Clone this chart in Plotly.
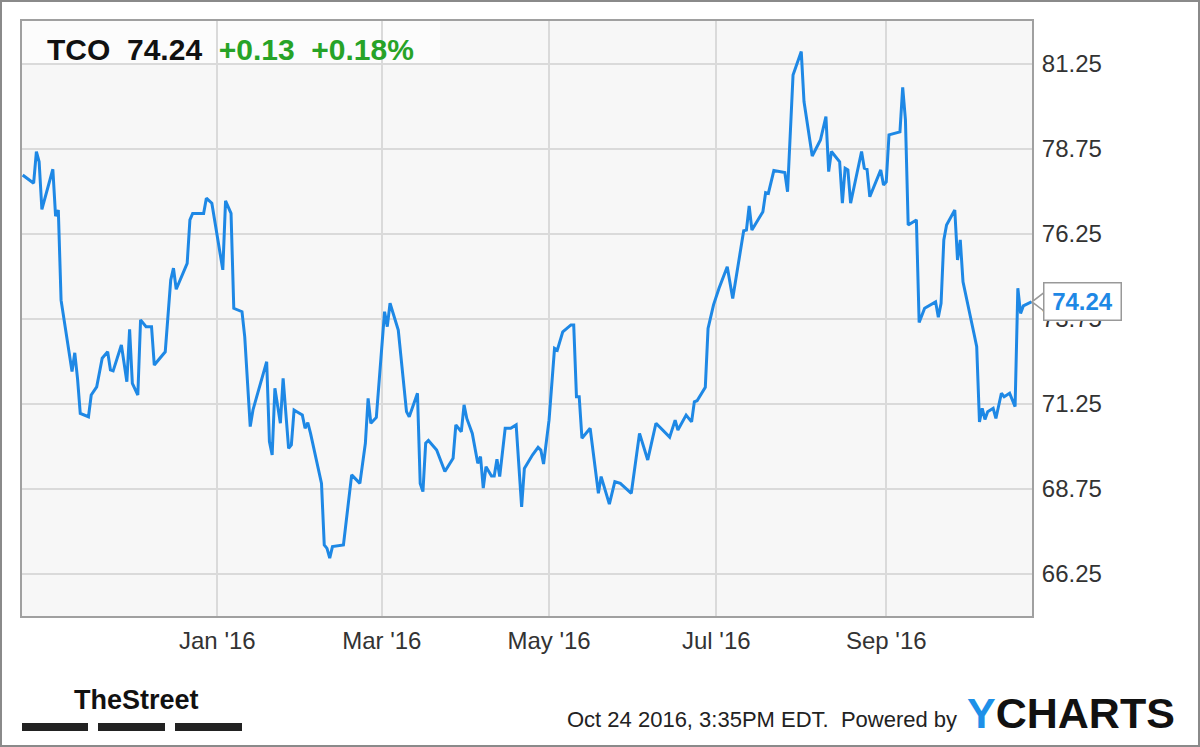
import plotly.graph_objects as go

# TCO closing prices (Oct 2015 - Oct 2016)
dates = [
    "2015-10-22", "2015-10-26", "2015-10-27", "2015-10-28", "2015-10-29",
    "2015-11-02", "2015-11-03", "2015-11-04", "2015-11-05", "2015-11-09", "2015-11-10",
    "2015-11-11", "2015-11-12", "2015-11-15", "2015-11-16", "2015-11-18", "2015-11-20",
    "2015-11-22", "2015-11-23", "2015-11-24", "2015-11-27", "2015-11-29", "2015-11-30",
    "2015-12-01", "2015-12-03", "2015-12-04", "2015-12-06", "2015-12-08", "2015-12-09",
    "2015-12-13", "2015-12-15", "2015-12-16", "2015-12-17", "2015-12-21", "2015-12-22",
    "2015-12-23", "2015-12-27", "2015-12-28", "2015-12-30",
    "2016-01-03", "2016-01-04", "2016-01-06", "2016-01-07", "2016-01-10", "2016-01-11",
    "2016-01-13", "2016-01-14", "2016-01-19", "2016-01-20", "2016-01-21", "2016-01-22",
    "2016-01-24", "2016-01-25", "2016-01-27", "2016-01-28", "2016-01-29", "2016-01-30",
    "2016-02-01", "2016-02-02", "2016-02-03", "2016-02-04", "2016-02-08", "2016-02-09",
    "2016-02-10", "2016-02-11", "2016-02-12", "2016-02-16", "2016-02-19", "2016-02-22",
    "2016-02-24", "2016-02-25", "2016-02-26", "2016-02-28",
    "2016-03-02", "2016-03-03", "2016-03-04", "2016-03-07", "2016-03-10", "2016-03-11",
    "2016-03-14", "2016-03-15", "2016-03-16", "2016-03-17", "2016-03-18", "2016-03-21",
    "2016-03-24", "2016-03-27", "2016-03-28", "2016-03-30", "2016-03-31",
    "2016-04-01", "2016-04-03", "2016-04-05", "2016-04-06", "2016-04-07", "2016-04-08",
    "2016-04-10", "2016-04-11", "2016-04-12", "2016-04-13", "2016-04-15", "2016-04-17",
    "2016-04-19", "2016-04-21", "2016-04-22", "2016-04-25", "2016-04-27", "2016-04-28",
    "2016-04-29",
    "2016-05-01", "2016-05-03", "2016-05-04", "2016-05-06", "2016-05-09", "2016-05-10",
    "2016-05-11", "2016-05-12", "2016-05-13", "2016-05-16", "2016-05-19", "2016-05-20",
    "2016-05-23", "2016-05-25", "2016-05-27", "2016-05-31",
    "2016-06-03", "2016-06-06", "2016-06-09", "2016-06-14", "2016-06-16", "2016-06-17",
    "2016-06-20", "2016-06-22", "2016-06-23", "2016-06-24", "2016-06-27", "2016-06-28",
    "2016-06-30",
    "2016-07-02", "2016-07-05", "2016-07-07", "2016-07-11", "2016-07-12", "2016-07-13",
    "2016-07-14", "2016-07-18", "2016-07-19", "2016-07-20", "2016-07-22", "2016-07-25",
    "2016-07-26", "2016-07-27", "2016-07-29",
    "2016-08-01", "2016-08-02", "2016-08-05", "2016-08-08", "2016-08-10", "2016-08-11",
    "2016-08-12", "2016-08-15", "2016-08-16", "2016-08-17", "2016-08-18", "2016-08-19",
    "2016-08-23", "2016-08-24", "2016-08-25", "2016-08-26", "2016-08-30", "2016-08-31",
    "2016-09-01", "2016-09-02", "2016-09-06", "2016-09-07", "2016-09-08", "2016-09-09",
    "2016-09-12", "2016-09-13", "2016-09-15", "2016-09-19", "2016-09-20", "2016-09-21",
    "2016-09-22", "2016-09-23", "2016-09-26", "2016-09-27", "2016-09-28", "2016-09-29",
    "2016-10-03", "2016-10-04", "2016-10-05", "2016-10-06", "2016-10-07", "2016-10-08",
    "2016-10-10", "2016-10-11", "2016-10-13", "2016-10-14", "2016-10-16", "2016-10-18",
    "2016-10-19", "2016-10-20", "2016-10-21", "2016-10-24",
]

prices = [
    77.97, 77.73, 78.66, 78.36, 76.96,
    78.14, 76.76, 76.94, 74.29, 72.19, 72.74, 71.99, 70.96, 70.86, 71.50, 71.74, 72.58,
    72.77, 72.24, 72.21, 72.97, 71.89, 73.43,
    71.84, 71.50, 73.71, 73.51, 73.51, 72.38, 72.77, 74.88, 75.23, 74.61, 75.37, 76.65,
    76.84, 76.84, 77.29, 77.14,
    75.18, 77.21, 76.84, 74.05, 73.95, 73.21, 70.57, 71.06, 72.48, 70.13, 69.74, 71.70,
    70.67, 71.99, 69.93, 70.03, 71.06, 71.01,
    70.91, 70.52, 70.69, 70.37, 68.90, 67.09, 66.99, 66.70, 67.04, 67.09, 69.15, 68.90,
    70.08, 71.40, 70.67, 70.84,
    73.95, 73.51, 74.20, 73.41, 71.01, 70.86, 71.55, 68.90, 68.66, 70.08, 70.16, 69.88,
    69.25, 69.64, 70.62, 70.42, 71.21,
    70.81, 70.37, 69.49, 69.69, 68.76, 69.39, 69.12, 69.12, 69.61, 69.10, 70.52, 70.52,
    70.62, 68.21, 69.34, 69.74, 69.96, 69.88, 69.47,
    70.76, 72.87, 72.82, 73.36, 73.56, 73.56, 71.45, 71.45, 70.23, 70.52, 68.61, 69.10,
    68.29, 68.95, 68.90, 68.61,
    70.37, 69.59, 70.67, 70.26, 70.76, 70.47, 70.91, 70.71, 71.30, 71.33, 71.73, 73.46,
    74.15,
    74.64, 75.27, 74.34, 76.33, 76.35, 77.06, 76.35, 76.89, 77.45, 77.43, 78.10, 78.07,
    78.04, 77.48, 80.91,
    81.60, 80.13, 78.53, 79.00, 79.69, 78.07, 78.66, 78.36, 77.14, 78.17, 78.12, 77.14,
    78.66, 78.17, 78.14, 77.33, 78.12, 77.68,
    77.77, 79.15, 79.24, 80.55, 79.59, 76.50, 76.65, 73.63, 74.05, 74.24, 73.79, 74.20,
    76.06, 76.50, 76.94, 75.47, 76.06, 74.83,
    73.31, 72.92, 70.71, 71.11, 70.78, 71.01, 71.11, 70.81, 71.55, 71.45, 71.55, 71.16,
    74.64, 73.90, 74.12, 74.24,
]
assert len(dates) == len(prices)

ticker = "TCO"
last_price = "74.24"
change = "+0.13"
change_pct = "+0.18%"

x_tick_vals = ["2016-01-01", "2016-03-01", "2016-05-01", "2016-07-01", "2016-09-01"]
x_tick_text = ["Jan '16", "Mar '16", "May '16", "Jul '16", "Sep '16"]
y_tick_vals = [66.25, 68.75, 71.25, 73.75, 76.25, 78.75, 81.25]

LINE_BLUE = "#1e88e5"
GREEN = "#27a327"
FONT = "Liberation Sans, Arial, sans-serif"

# plot area in pixels: x 22..1032, y 21..616
W, H = 1200, 747
ML, MR, MT, MB = 22, 168, 21, 131
PW, PH = W - ML - MR, H - MT - MB


def px_x(px):
    return (px - ML) / PW


def px_y(py):
    return (H - MB - py) / PH


fig = go.Figure()
fig.add_trace(go.Scatter(
    x=dates, y=prices, mode="lines",
    line=dict(color=LINE_BLUE, width=3),
    hoverinfo="skip", showlegend=False,
))

fig.update_layout(
    width=W, height=H,
    margin=dict(l=ML, r=MR, t=MT, b=MB),
    paper_bgcolor="white",
    plot_bgcolor="#f7f7f7",
    font=dict(family=FONT, color="#333333"),
    showlegend=False,
    xaxis=dict(
        range=["2015-10-21 18:00", "2016-10-24 04:00"],
        tickvals=x_tick_vals, ticktext=x_tick_text,
        tickfont=dict(size=24, color="#333333"),
        ticklabelstandoff=2,
        showgrid=True, gridcolor="#dadada", gridwidth=1.5,
        showline=True, linecolor="#a0a0a0", linewidth=2, mirror=True,
        ticks="", zeroline=False, fixedrange=True,
    ),
    yaxis=dict(
        range=[65, 82.5], side="right",
        tickvals=y_tick_vals, tickformat=".2f",
        tickfont=dict(size=24, color="#333333"),
        ticklabelstandoff=3,
        showgrid=True, gridcolor="#dadada", gridwidth=1.5,
        showline=True, linecolor="#a0a0a0", linewidth=2, mirror=True,
        ticks="", zeroline=False, fixedrange=True,
    ),
)

shapes = [
    # light header strip
    dict(type="rect", xref="paper", yref="paper", x0=0, x1=px_x(440),
         y0=px_y(65), y1=1, fillcolor="rgba(255,255,255,0.6)",
         line=dict(width=0), layer="below"),
    # pointer of the last-price callout
    dict(type="path", xref="paper", yref="y", xsizemode="pixel", ysizemode="pixel",
         xanchor=1, yanchor=prices[-1], path="M 0,0 L 13,-10 L 13,10 Z",
         fillcolor="white", line=dict(color="#999999", width=1.5), layer="above"),
    # outer frame
    dict(type="rect", xref="paper", yref="paper", x0=px_x(1), x1=px_x(W - 1),
         y0=px_y(H - 1), y1=px_y(1), line=dict(color="#8a8a8a", width=2)),
]
# TheStreet bars
for x0, x1 in [(22, 88), (98, 165), (175, 242)]:
    shapes.append(dict(type="rect", xref="paper", yref="paper",
                       x0=px_x(x0), x1=px_x(x1), y0=px_y(731), y1=px_y(723),
                       fillcolor="#222222", line=dict(width=0)))
fig.update_layout(shapes=shapes)

annotations = [
    dict(xref="paper", yref="paper", x=px_x(45), y=px_y(49),
         xanchor="left", yanchor="middle", showarrow=False,
         text=f"<b>{ticker}&nbsp;&nbsp;{last_price}&nbsp;&nbsp;"
              f"<span style='color:{GREEN}'>{change}&nbsp;&nbsp;{change_pct}</span></b>",
         font=dict(size=30, color="#111111", family=FONT)),
    dict(xref="paper", yref="y", x=1, y=prices[-1], xanchor="left", yanchor="middle",
         xshift=11, showarrow=False, text=f"<b>{last_price}</b>",
         font=dict(size=24, color=LINE_BLUE, family=FONT),
         bgcolor="white", bordercolor="#999999", borderwidth=1.5, borderpad=4,
         width=68, height=28),
    dict(xref="paper", yref="paper", x=px_x(959), y=px_y(719),
         xanchor="right", yanchor="middle", showarrow=False,
         text="Oct 24 2016, 3:35PM EDT.&nbsp;&nbsp;Powered by",
         font=dict(size=22, color="#222222", family=FONT)),
    dict(xref="paper", yref="paper", x=px_x(965), y=px_y(713),
         xanchor="left", yanchor="middle", showarrow=False,
         text="<b><span style='color:#1e90e8'>Y</span>CHARTS</b>",
         font=dict(size=43, color="#111111", family=FONT)),
    dict(xref="paper", yref="paper", x=px_x(72), y=px_y(700),
         xanchor="left", yanchor="middle", showarrow=False,
         text="<b>TheStreet</b>",
         font=dict(size=27, color="#111111", family=FONT)),
]
fig.update_layout(annotations=annotations)

# the page body has a default 8px margin; drop it so the figure fills the window
fig.write_html("out.html", config={"displayModeBar": False},
               post_script="document.body.style.margin='0';")
